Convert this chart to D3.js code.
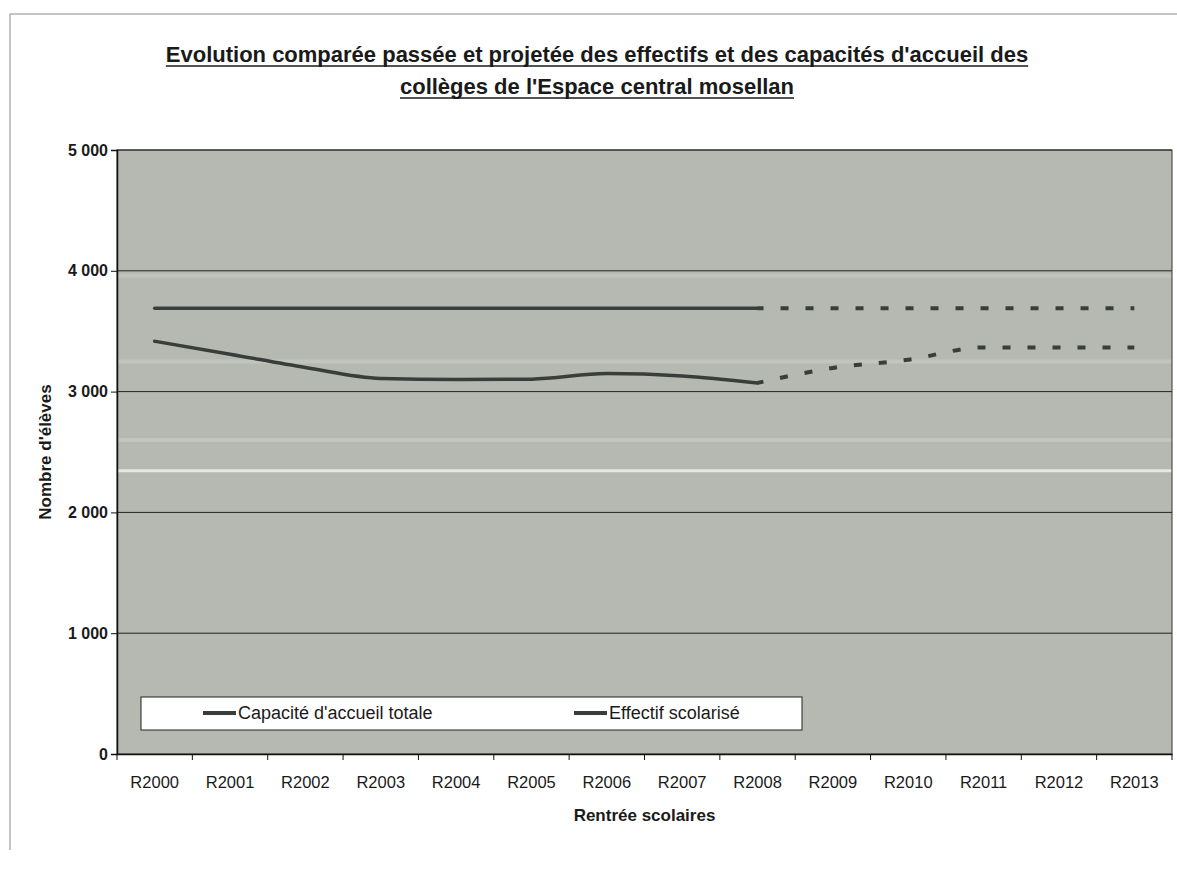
<!DOCTYPE html>
<html>
<head>
<meta charset="utf-8">
<script src="https://cdn.jsdelivr.net/npm/d3@7"></script>
<style>
  html, body { margin: 0; padding: 0; background: #ffffff; }
  svg { display: block; }
  text { font-family: "Liberation Sans", Arial, sans-serif; fill: #1a1a1a; }
</style>
</head>
<body>
<svg id="chart" width="1177" height="880"></svg>
<script>
// ---- Data ----
const categories = ["R2000","R2001","R2002","R2003","R2004","R2005","R2006","R2007","R2008","R2009","R2010","R2011","R2012","R2013"];
const capaciteAccueil = [3690,3690,3690,3690,3690,3690,3690,3690,3690,3690,3690,3690,3690,3690];
const effectifScolarise = [3417,3310,3200,3109,3100,3103,3150,3130,3072,3196,3264,3366,3366,3366];
const lastObserved = "R2008";
const yTickValues = [0,1000,2000,3000,4000,5000];
const seriesNames = ["Capacité d'accueil totale","Effectif scolarisé"];
const titleLines = ["Evolution comparée passée et projetée des effectifs et des capacités d'accueil des","collèges de l'Espace central mosellan"];
const xTitle = "Rentrée scolaires";
const yTitle = "Nombre d'élèves";

// ---- Layout ----
const svg = d3.select("#chart");
const plot = {left: 117, right: 1172, top: 150, bottom: 754};
const lineColor = "#3a3e3a";

const x = d3.scaleBand().domain(categories).range([plot.left, plot.right]).padding(0);
const y = d3.scaleLinear().domain([0, 5000]).range([plot.bottom, plot.top]);
const cx = c => x(c) + x.bandwidth() / 2;

const fr = d3.formatLocale({decimal: ",", thousands: " ", grouping: [3], currency: ["", " €"]});
const fmt = fr.format(",");

// Outer frame (top & left edges of scanned page border)
svg.append("line").attr("x1", 10).attr("x2", 1177).attr("y1", 14).attr("y2", 14).attr("stroke", "#8a8a8a").attr("stroke-width", 1);
svg.append("line").attr("x1", 10).attr("x2", 10).attr("y1", 14).attr("y2", 850).attr("stroke", "#8a8a8a").attr("stroke-width", 1);

// Title
const titleG = svg.append("g");
const titleBase = [62, 94];
titleLines.forEach((t, i) => {
  const tx = titleG.append("text")
    .attr("x", 597).attr("y", titleBase[i])
    .attr("text-anchor", "middle")
    .attr("font-size", 22).attr("font-weight", "bold")
    .text(t);
  const w = tx.node().getComputedTextLength();
  titleG.append("line")
    .attr("x1", 597 - w / 2).attr("x2", 597 + w / 2)
    .attr("y1", titleBase[i] + 4).attr("y2", titleBase[i] + 4)
    .attr("stroke", "#1a1a1a").attr("stroke-width", 1.5);
});

// Plot background
svg.append("rect")
  .attr("x", plot.left).attr("y", plot.top)
  .attr("width", plot.right - plot.left).attr("height", plot.bottom - plot.top)
  .attr("fill", "#b5b9b1");

// scan light bands
svg.append("line")
  .attr("x1", plot.left + 1).attr("x2", plot.right)
  .attr("y1", y(2345)).attr("y2", y(2345))
  .attr("stroke", "#e6e9e3").attr("stroke-width", 3);
[[3960, 0.25], [3250, 0.3], [2600, 0.3]].forEach(([v, o]) => {
  svg.append("line")
    .attr("x1", plot.left + 1).attr("x2", plot.right)
    .attr("y1", y(v)).attr("y2", y(v))
    .attr("stroke", "#dfe2dc").attr("stroke-opacity", o).attr("stroke-width", 4);
});

// Gridlines
svg.append("g").selectAll("line").data(yTickValues.filter(v => v > 0)).join("line")
  .attr("x1", plot.left).attr("x2", plot.right)
  .attr("y1", d => y(d)).attr("y2", d => y(d))
  .attr("stroke", "#222").attr("stroke-width", 1);

// Plot border
svg.append("rect")
  .attr("x", plot.left).attr("y", plot.top)
  .attr("width", plot.right - plot.left).attr("height", plot.bottom - plot.top)
  .attr("fill", "none").attr("stroke", "#333").attr("stroke-width", 1);

// Y axis
const yAxis = svg.append("g")
  .attr("transform", `translate(${plot.left},0)`)
  .call(d3.axisLeft(y).tickValues(yTickValues).tickFormat(fmt).tickSize(6).tickPadding(3));
yAxis.select(".domain").attr("stroke", "#111").attr("stroke-width", 1.5);
yAxis.selectAll(".tick line").attr("stroke", "#111");
yAxis.selectAll(".tick text")
  .attr("font-family", "Liberation Sans, Arial, sans-serif")
  .attr("font-size", 16).attr("font-weight", "bold").attr("fill", "#1a1a1a");

// X axis
const xAxis = svg.append("g")
  .attr("transform", `translate(0,${plot.bottom})`)
  .call(d3.axisBottom(x).tickSize(0).tickPadding(22));
xAxis.select(".domain").attr("stroke", "#111").attr("stroke-width", 1.5);
xAxis.selectAll(".tick text")
  .attr("font-family", "Liberation Sans, Arial, sans-serif")
  .attr("font-size", 16.5).attr("fill", "#1a1a1a");
// boundary tick marks
const bounds = categories.map(c => x(c)).concat([x(categories[categories.length - 1]) + x.bandwidth()]);
xAxis.selectAll("line.bound").data(bounds).join("line").attr("class", "bound")
  .attr("x1", d => d).attr("x2", d => d).attr("y1", 0).attr("y2", 6)
  .attr("stroke", "#111");

// Axis titles
svg.append("text")
  .attr("x", (plot.left + plot.right) / 2).attr("y", 821)
  .attr("text-anchor", "middle").attr("font-size", 17).attr("font-weight", "bold")
  .text(xTitle);
svg.append("text")
  .attr("transform", `translate(51,${(plot.top + plot.bottom) / 2}) rotate(-90)`)
  .attr("text-anchor", "middle").attr("font-size", 17).attr("font-weight", "bold")
  .text(yTitle);

// Lines
const idx = categories.indexOf(lastObserved);
const line = d3.line().x(d => cx(d.c)).y(d => y(d.v)).curve(d3.curveMonotoneX);
[capaciteAccueil, effectifScolarise].forEach(vals => {
  const pts = categories.map((c, i) => ({c, v: vals[i]}));
  svg.append("path")
    .attr("d", line(pts.slice(0, idx + 1)))
    .attr("fill", "none").attr("stroke", lineColor).attr("stroke-width", 3.5)
    .attr("stroke-linejoin", "round").attr("stroke-linecap", "round");
  svg.append("path")
    .attr("d", line(pts.slice(idx)))
    .attr("fill", "none").attr("stroke", lineColor).attr("stroke-width", 4)
    .attr("stroke-dasharray", "8,17").attr("stroke-dashoffset", 2);
});

// Legend
const lg = svg.append("g");
lg.append("rect").attr("x", 141).attr("y", 697).attr("width", 661).attr("height", 33)
  .attr("fill", "#ffffff").attr("stroke", "#222").attr("stroke-width", 1);
const legendX = [203, 574];
seriesNames.forEach((name, i) => {
  lg.append("line").attr("x1", legendX[i]).attr("x2", legendX[i] + 33)
    .attr("y1", 713).attr("y2", 713).attr("stroke", lineColor).attr("stroke-width", 4);
  lg.append("text").attr("x", legendX[i] + 35).attr("y", 719)
    .attr("font-size", 18).text(name);
});
</script>
</body>
</html>
